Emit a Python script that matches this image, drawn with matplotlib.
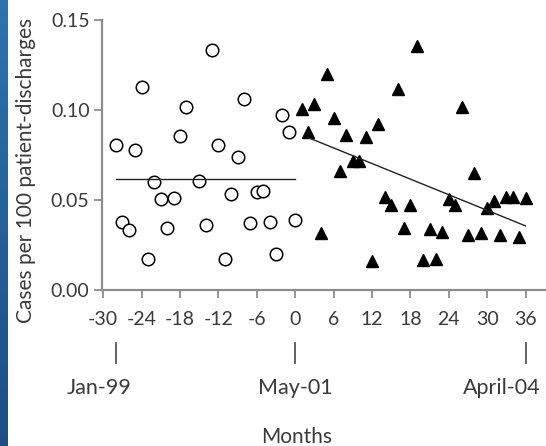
import numpy as np
import matplotlib
matplotlib.use('Agg')
import matplotlib.pyplot as plt

# months relative to May-01 and rates per 100 patient-discharges
months_pre = [-28, -27, -26, -25, -24, -23, -22, -21, -20, -19, -18, -17, -15, -14,
              -13, -12, -11, -10, -9, -8, -7, -6, -5, -4, -3, -2, -1, 0]
rates_pre = [0.0804, 0.038, 0.0333, 0.0778, 0.1126, 0.0174, 0.0602, 0.0504, 0.0344,
             0.0513, 0.0856, 0.1017, 0.0607, 0.0359, 0.1335, 0.0804, 0.0174, 0.0535,
             0.0741, 0.1059, 0.037, 0.0546, 0.0552, 0.0376, 0.0202, 0.097, 0.0878, 0.0389]

months_post = list(range(1, 37))
rates_post = [0.1004, 0.0878, 0.1033, 0.0315, 0.12, 0.0956, 0.0663, 0.0861, 0.0717,
              0.0717, 0.0852, 0.0163, 0.0922, 0.0515, 0.0472, 0.1117, 0.0343, 0.0472,
              0.1357, 0.0167, 0.0337, 0.017, 0.0324, 0.0506, 0.0472, 0.1015, 0.0306,
              0.0648, 0.0319, 0.0454, 0.0494, 0.0306, 0.0519, 0.0515, 0.0296, 0.0513]

xticks = [-30, -24, -18, -12, -6, 0, 6, 12, 18, 24, 30, 36]
yticks = [0.00, 0.05, 0.10, 0.15]
date_marks = [-28, 0, 36]
date_labels = ['Jan-99', 'May-01', 'April-04']
date_label_x = [-30.7, 0, 32.3]

plt.rcParams['font.family'] = ['Lato', 'DejaVu Sans']
plt.rcParams['axes.unicode_minus'] = False
txt = '#3a3a3a'
axc = '#8c8c8c'

fig = plt.figure(figsize=(5.46, 4.46), dpi=100)
fig.patch.set_facecolor('white')

# blue strip on the left
strip = fig.add_axes([0, 0, 8 / 546, 1])
grad = np.linspace(0, 1, 256).reshape(-1, 1)
cmap = matplotlib.colors.LinearSegmentedColormap.from_list('b', ['#2c73b0', '#1d4d84'])
strip.imshow(grad, aspect='auto', cmap=cmap)
strip.axis('off')

ax = fig.add_axes([102 / 546, 156 / 446, 1 - 102 / 546, 270 / 446])
ax.set_xlim(-30.2, 39.2)
ax.set_ylim(0, 0.15)

ax.plot(months_pre, rates_pre, 'o', mfc='white', mec='black', ms=9, mew=1.1, clip_on=False)
ax.plot(months_post, rates_post, '^', color='black', ms=9, clip_on=False)

# mean before, regression after
mean_pre = np.mean(rates_pre)
ax.plot([months_pre[0], months_pre[-1]], [mean_pre, mean_pre], color='#222222', lw=1)
k, b = np.polyfit(months_post, rates_post, 1)
xs = np.array([2, 36])
ax.plot(xs, k * xs + b, color='#222222', lw=1)

for s in ['top', 'right']:
    ax.spines[s].set_visible(False)
for s in ['left', 'bottom']:
    ax.spines[s].set_color(axc)
    ax.spines[s].set_linewidth(1.6)

ax.set_xticks(xticks)
ax.set_yticks(yticks)
ax.set_yticklabels(['%.2f' % v for v in yticks])
ax.tick_params(colors=axc, labelcolor=txt, labelsize=14, length=6, width=1.3)
ax.tick_params(axis='x', pad=9)
ax.tick_params(axis='y', pad=3)

tr = ax.get_xaxis_transform()
for p in date_marks:
    ax.plot([p, p], [-0.196, -0.27], color='#555555', lw=1.3, transform=tr, clip_on=False)
for p, lab in zip(date_label_x, date_labels):
    ax.text(p, -0.363, lab, transform=tr, ha='center', va='center', fontsize=15.5, color=txt)

fig.text(297 / 546, 1 - 437 / 446, 'Months', ha='center', va='center', fontsize=15, color=txt)
fig.text(26 / 546, 1 - 170 / 446, 'Cases per 100 patient-discharges', rotation=90,
         ha='center', va='center', fontsize=15, color=txt)

fig.savefig('out.png', dpi=100)
